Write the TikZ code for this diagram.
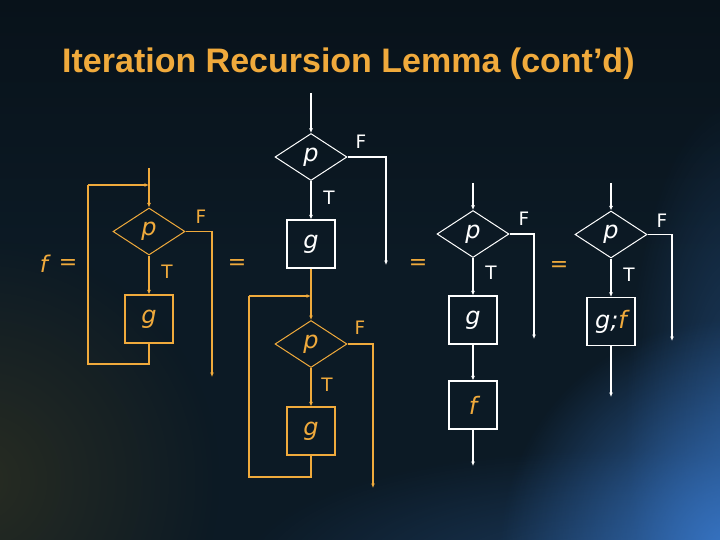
\documentclass[tikz,border=0pt]{standalone}
\usepackage{fontspec}
\setmainfont{DejaVu Sans}
\newfontfamily\titlefont{Liberation Sans}
\usetikzlibrary{shapes.geometric,arrows.meta,fadings}
\definecolor{bg}{HTML}{0C1A25}
\definecolor{bgtop}{HTML}{08121A}
\definecolor{gold}{HTML}{F0AA3C}
\definecolor{glowblue}{HTML}{3A7BD0}
\definecolor{olivetint}{HTML}{3A3820}
\tikzfading[name=glowfade, inner color=transparent!0, outer color=transparent!100]
\tikzset{
 dia/.style={diamond, draw, line width=1pt, minimum width=72pt, minimum height=47pt, inner sep=0pt, font=\itshape\fontsize{24}{24}\selectfont},
 blk/.style={rectangle, draw, line width=1.15pt, minimum width=48pt, minimum height=48pt, inner sep=0pt, font=\itshape\fontsize{24}{24}\selectfont},
 flow/.style={line width=1.6pt, -{Latex[length=4.5pt,width=4pt]}},
 plain/.style={line width=1.6pt},
 back/.style={line width=1.15pt},
 lbl/.style={inner sep=0pt, font=\fontsize{18.5}{18.5}\selectfont},
 eqs/.style={inner sep=0pt, text=gold, font=\fontsize{22}{22}\selectfont},
}
\begin{document}
\begin{tikzpicture}[x=1pt,y=-1pt]
\useasboundingbox (0,0) rectangle (720,540);
% background
\fill[bg] (0,0) rectangle (720,540);
\shade[top color=bgtop, bottom color=bg] (0,0) rectangle (720,260);
\fill[olivetint, path fading=glowfade, opacity=0.6] (-20,480) circle[radius=240pt];
\fill[glowblue, path fading=glowfade, opacity=0.3] (600,570) ellipse[x radius=360pt, y radius=120pt];
\fill[glowblue, path fading=glowfade, opacity=0.35] (735,420) ellipse[x radius=110pt, y radius=320pt];
\fill[glowblue, path fading=glowfade, opacity=0.9] (730,550) circle[radius=230pt];

% title
\node[anchor=base west, inner sep=0pt, text=gold, font=\titlefont\bfseries\fontsize{34}{34}\selectfont] (title) at (62,73) {Iteration Recursion Lemma (cont’d)};

% f =
\node[eqs, font=\itshape\fontsize{23}{23}\selectfont] (fl) at (44,264) {f};
\node[eqs] (eq0) at (68,265) {=};
\node[eqs] (eq1) at (237,265) {=};
\node[eqs] (eq2) at (418,265) {=};
\node[eqs] (eq3) at (559,267) {=};

% diagram 1 (gold)
\begin{scope}[color=gold]
\coordinate (a1) at (149,168);
\node[dia, draw=gold] (p1) at (149,231.5) {p};
\node[blk, draw=gold] (g1) at (149,319) {g};
\coordinate (e1) at (212,377);
\coordinate (lb1) at (88,364);
\coordinate (lt1) at (88,185);
\coordinate (j1) at (149,185);
\draw[plain] (a1) -- (j1);
\draw[flow] (j1) -- (p1.north);
\draw[flow] (p1.east) -| (e1);
\draw[flow] (p1.south) -- (g1.north);
\draw[back, gold] (g1.south) |- (lb1) -- (lt1);
\draw[flow] (lt1) -- (j1);
\node[lbl] (F1) at (201,217) {F};
\node[lbl] (T1) at (167,272) {T};
\end{scope}

% diagram 2 outer (white)
\begin{scope}[color=white]
\coordinate (a2) at (311,93);
\node[dia] (p2) at (311,157) {p};
\node[blk] (g2) at (311,244) {g};
\coordinate (e2) at (386,265);
\draw[flow] (a2) -- (p2.north);
\draw[flow] (p2.east) -| (e2);
\draw[flow] (p2.south) -- (g2.north);
\node[lbl] (F2) at (361,142) {F};
\node[lbl] (T2) at (329,198) {T};
\end{scope}

% diagram 2 inner (gold)
\begin{scope}[color=gold]
\node[dia, draw=gold] (p3) at (311,344) {p};
\node[blk, draw=gold] (g3) at (311,431) {g};
\coordinate (j3) at (311,296);
\coordinate (lt3) at (249,296);
\coordinate (lb3) at (249,477);
\coordinate (e3) at (373,488);
\draw[plain] (g2.south) -- (j3);
\draw[flow] (j3) -- (p3.north);
\draw[flow] (p3.east) -| (e3);
\draw[flow] (p3.south) -- (g3.north);
\draw[back, gold] (g3.south) |- (lb3) -- (lt3);
\draw[flow] (lt3) -- (j3);
\node[lbl] (F3) at (360,328) {F};
\node[lbl] (T3) at (327,385) {T};
\end{scope}

% diagram 3 (white)
\begin{scope}[color=white]
\coordinate (a4) at (473,183);
\node[dia] (p4) at (473,234) {p};
\node[blk] (g4) at (473,320) {g};
\node[blk] (f4) at (473,405) {\textcolor{gold}{f}};
\coordinate (e4) at (534,339);
\coordinate (o4) at (473,466);
\draw[flow] (a4) -- (p4.north);
\draw[flow] (p4.east) -| (e4);
\draw[flow] (p4.south) -- (g4.north);
\draw[flow] (g4.south) -- (f4.north);
\draw[flow] (f4.south) -- (o4);
\node[lbl] (F4) at (524,219) {F};
\node[lbl] (T4) at (491,273) {T};
\end{scope}

% diagram 4 (white)
\begin{scope}[color=white]
\coordinate (a5) at (611,183);
\node[dia] (p5) at (611,234.5) {p};
\node[blk] (g5) at (611,321.5) {g;\textcolor{gold}{f}};
\coordinate (e5) at (672,341);
\coordinate (o5) at (611,397);
\draw[flow] (a5) -- (p5.north);
\draw[flow] (p5.east) -| (e5);
\draw[flow] (p5.south) -- (g5.north);
\draw[flow] (g5.south) -- (o5);
\node[lbl] (F5) at (662,221) {F};
\node[lbl] (T5) at (629,275) {T};
\end{scope}
\end{tikzpicture}
\end{document}
